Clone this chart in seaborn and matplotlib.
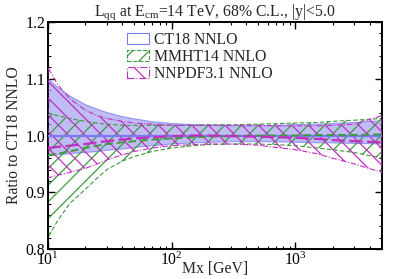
import numpy as np
import pandas as pd
import matplotlib
matplotlib.use("Agg")
import matplotlib.pyplot as plt
import seaborn as sns
from matplotlib.patches import Patch
from matplotlib.ticker import MultipleLocator, LogLocator, NullFormatter

# ---- data ----
mass = [10, 12, 15, 20, 25, 30, 40, 50, 70, 100, 150, 200, 300, 500, 700, 1000, 1500, 2000, 3000, 5000]

ct18_central = [1.0] * 20
ct18_upper = [1.100, 1.085, 1.070, 1.055, 1.047, 1.041, 1.034, 1.030, 1.025, 1.022, 1.020, 1.019, 1.018, 1.018, 1.019, 1.020, 1.021, 1.022, 1.024, 1.027]
ct18_lower = [0.965, 0.967, 0.969, 0.971, 0.973, 0.975, 0.977, 0.980, 0.983, 0.986, 0.988, 0.989, 0.990, 0.990, 0.990, 0.989, 0.988, 0.988, 0.987, 0.986]

mmht_central = [0.965, 0.968, 0.972, 0.978, 0.982, 0.985, 0.988, 0.990, 0.993, 0.995, 0.997, 0.998, 0.999, 1.000, 1.000, 1.000, 1.001, 1.001, 1.001, 1.002]
mmht_upper = [1.040, 1.035, 1.030, 1.025, 1.022, 1.020, 1.018, 1.018, 1.018, 1.018, 1.018, 1.019, 1.019, 1.020, 1.021, 1.022, 1.023, 1.025, 1.027, 1.030]
mmht_lower = [0.820, 0.850, 0.880, 0.905, 0.925, 0.940, 0.955, 0.963, 0.972, 0.978, 0.982, 0.984, 0.985, 0.985, 0.984, 0.982, 0.978, 0.975, 0.970, 0.960]

nnpdf_central = [0.978, 0.980, 0.982, 0.985, 0.988, 0.990, 0.993, 0.995, 0.997, 0.999, 1.000, 1.000, 0.999, 0.998, 0.997, 0.996, 0.994, 0.992, 0.990, 0.988]
nnpdf_upper = [1.120, 1.090, 1.065, 1.045, 1.035, 1.030, 1.025, 1.022, 1.020, 1.018, 1.018, 1.018, 1.018, 1.018, 1.017, 1.017, 1.017, 1.018, 1.020, 1.035]
nnpdf_lower = [0.925, 0.930, 0.935, 0.942, 0.950, 0.957, 0.966, 0.972, 0.978, 0.982, 0.984, 0.985, 0.985, 0.983, 0.979, 0.975, 0.968, 0.960, 0.950, 0.935]

labels = ["CT18 NNLO", "MMHT14 NNLO", "NNPDF3.1 NNLO"]
title = r"L$_{\rm qq}$ at E$_{\rm cm}$=14 TeV, 68% C.L., |y|<5.0"

sns.set_theme(style="ticks")
plt.rcParams["font.family"] = ["Liberation Serif", "DejaVu Serif"]
plt.rcParams["mathtext.fontset"] = "custom"
plt.rcParams["mathtext.rm"] = "Liberation Serif"
plt.rcParams["mathtext.it"] = "Liberation Serif:italic"
plt.rcParams["hatch.linewidth"] = 0.9

c_blue = "#7b7bf0"
c_fill = "#a9a9f2"
c_green = "#3f9a3f"
c_mag = "#c030c0"
fs = 11.3

fig = plt.figure(figsize=(3.99, 2.79), dpi=100)
ax = fig.add_axes([0.120, 0.1075, 0.837, 0.8135])

df = pd.DataFrame({"mass": mass, "ct": ct18_central, "mm": mmht_central, "nn": nnpdf_central})

ax.fill_between(mass, ct18_lower, ct18_upper, facecolor=c_fill, edgecolor=c_blue, alpha=0.75, linewidth=0.8, zorder=1)
ax.fill_between(mass, mmht_lower, mmht_upper, facecolor="none", edgecolor=c_green, hatch="//", linewidth=0.8, linestyle=(0, (4, 2)), zorder=2)
ax.fill_between(mass, nnpdf_lower, nnpdf_upper, facecolor="none", edgecolor=c_mag, hatch="\\\\", linewidth=0.8, linestyle=(0, (5, 1.5, 1, 1.5)), zorder=3)

sns.lineplot(data=df, x="mass", y="ct", ax=ax, color=c_blue, linewidth=1.6, zorder=4)
sns.lineplot(data=df, x="mass", y="mm", ax=ax, color=c_green, linewidth=1.4, linestyle=(0, (4, 2)), zorder=5)
sns.lineplot(data=df, x="mass", y="nn", ax=ax, color=c_mag, linewidth=1.6, linestyle=(0, (6, 2)), zorder=6)

ax.set_xscale("log")
ax.yaxis.set_major_locator(MultipleLocator(0.1))
ax.yaxis.set_minor_locator(MultipleLocator(0.02))
ax.set_yticks([0.8, 0.9, 1.0, 1.1, 1.2])
ax.set_yticklabels(["0.8", "0.9", "1.0", "1.1", "1.2"])
ax.xaxis.set_major_locator(LogLocator(base=10, numticks=10))
ax.xaxis.set_minor_locator(LogLocator(base=10, subs=np.arange(2, 10), numticks=20))
ax.xaxis.set_minor_formatter(NullFormatter())
ax.set_xlim(10, 5000)
ax.set_ylim(0.8, 1.2)

ax.tick_params(which="both", direction="in", top=True, right=True, labelsize=fs, colors="black")
ax.tick_params(which="major", length=5, width=1.0)
ax.tick_params(which="minor", length=2.5, width=0.8)
ax.tick_params(axis="x", which="major", pad=2)
ax.tick_params(axis="y", which="major", pad=2)
for s in ax.spines.values():
    s.set_linewidth(1.4)
    s.set_color("black")

ax.set_xlabel("Mx [GeV]", fontsize=fs, va="center")
ax.xaxis.set_label_coords(0.5, -0.086)
ax.set_ylabel("Ratio to CT18 NNLO", fontsize=fs, labelpad=2)
ax.set_title(title, fontsize=fs, pad=2)

handles = [
    Patch(facecolor="white", edgecolor=c_blue, linewidth=0.8),
    Patch(facecolor="none", edgecolor=c_green, hatch="//", linewidth=0.8, linestyle="--"),
    Patch(facecolor="none", edgecolor=c_mag, hatch="\\\\", linewidth=0.8, linestyle="-."),
]
ax.legend(handles, labels, loc="upper left", bbox_to_anchor=(0.236, 0.955), frameon=False,
          fontsize=fs, handlelength=1.4, handleheight=0.7, labelspacing=0.05, handletextpad=0.35,
          borderaxespad=0, borderpad=0)

fig.savefig("out.png", dpi=100)
